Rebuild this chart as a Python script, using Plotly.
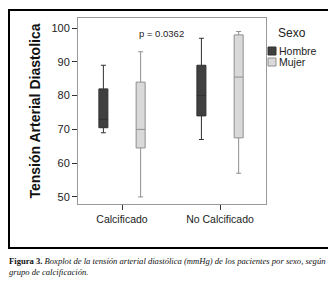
import plotly.graph_objects as go

categories = ["Calcificado", "No Calcificado"]
sexes = ["Hombre", "Mujer"]
# box statistics per sex, per category
lower = {"Hombre": [69, 67], "Mujer": [50, 57]}
q1 = {"Hombre": [70.5, 74], "Mujer": [64.5, 67.5]}
median = {"Hombre": [73, 80], "Mujer": [70, 85.5]}
q3 = {"Hombre": [82, 89], "Mujer": [84, 98]}
upper = {"Hombre": [89, 97], "Mujer": [93, 99]}
y_ticks = [50, 60, 70, 80, 90, 100]
fills = {"Hombre": "#404040", "Mujer": "#d9d9d9"}
lines = {"Hombre": "#303030", "Mujer": "#8f8f8f"}

# the page places the figure 8px in from the window corner
OFF = 8
W, H = 336 - OFF, 285 - OFF
L, R, T, B = 70, 70, 10, 81
pw, ph = W - L - R, H - T - B

def px(x):  # window pixel -> paper x
    return (x - OFF - L) / pw

def py(y):  # window pixel -> paper y
    return (H - B - (y - OFF)) / ph

fig = go.Figure()
for s in sexes:
    fig.add_trace(go.Box(
        name=s, x=categories,
        q1=q1[s], median=median[s], q3=q3[s],
        lowerfence=lower[s], upperfence=upper[s],
        fillcolor=fills[s], line=dict(color=lines[s], width=1),
        whiskerwidth=0.55, boxpoints=False, hoverinfo="skip",
        showlegend=False,
    ))

fig.update_layout(
    width=W, height=H,
    margin=dict(l=L, r=R, t=T, b=B, autoexpand=False),
    paper_bgcolor="white", plot_bgcolor="white",
    boxmode="group", boxgap=0.24, boxgroupgap=0.758,
    font=dict(family="Liberation Sans, Arial, sans-serif", color="#222"),
    xaxis=dict(type="category", range=[-0.449, 1.469], showline=True, mirror=True,
               linecolor="#999", linewidth=1, ticks="outside", ticklen=5,
               tickcolor="#333", tickfont=dict(size=10.5, color="#222"), showgrid=False,
               automargin=False),
    yaxis=dict(range=[47.9, 103], tickvals=y_ticks, showline=True, mirror=True,
               linecolor="#999", linewidth=1, ticks="outside", ticklen=5,
               tickcolor="#333", tickfont=dict(size=11, color="#222"), showgrid=False,
               zeroline=False, automargin=False,
               title=dict(text="<b>Tensión Arterial Diastolica</b>",
                          font=dict(size=14, color="#111"), standoff=7)),
    showlegend=False,
)

fig.add_annotation(text="p = 0.0362", xref="paper", yref="paper",
                   x=px(161), y=py(33), xanchor="center", yanchor="middle",
                   showarrow=False, font=dict(size=9.5, color="#222"))

# legend (drawn manually to match the original's compact layout)
fig.add_annotation(text="Sexo", xref="paper", yref="paper", x=px(276), y=py(33),
                   xanchor="left", yanchor="middle", showarrow=False,
                   font=dict(size=12, color="#222"))
leg_y = {"Hombre": 51, "Mujer": 62}
for s in sexes:
    fig.add_shape(type="rect", xref="paper", yref="paper",
                  x0=px(268), x1=px(276), y0=py(leg_y[s] + 4), y1=py(leg_y[s] - 4),
                  fillcolor=fills[s], line=dict(color=lines[s], width=1))
    fig.add_annotation(text=s, xref="paper", yref="paper", x=px(277), y=py(leg_y[s]),
                       xanchor="left", yanchor="middle", showarrow=False,
                       font=dict(size=10.5, color="#222"))

# outer frame, drawn as one closed path
fx0, fx1, fy0, fy1 = px(9), px(329), py(248), py(10)
frame_path = f"M {fx0},{fy0} L {fx0},{fy1} L {fx1},{fy1} L {fx1},{fy0} Z"
fig.add_shape(type="path", xref="paper", yref="paper", path=frame_path,
              line=dict(color="black", width=2), layer="above")

fig.add_annotation(
    text="<b>Figura 3.</b> <i>Boxplot de la tensión arterial diastólica (mmHg) de los pacientes por sexo, según</i><br><i>grupo de calcificación.</i>",
    xref="paper", yref="paper", x=px(7), y=py(254), xanchor="left", yanchor="top",
    align="left", showarrow=False,
    font=dict(family="Liberation Serif, serif", size=8.6, color="#111"))

fig.write_html("out.html")
